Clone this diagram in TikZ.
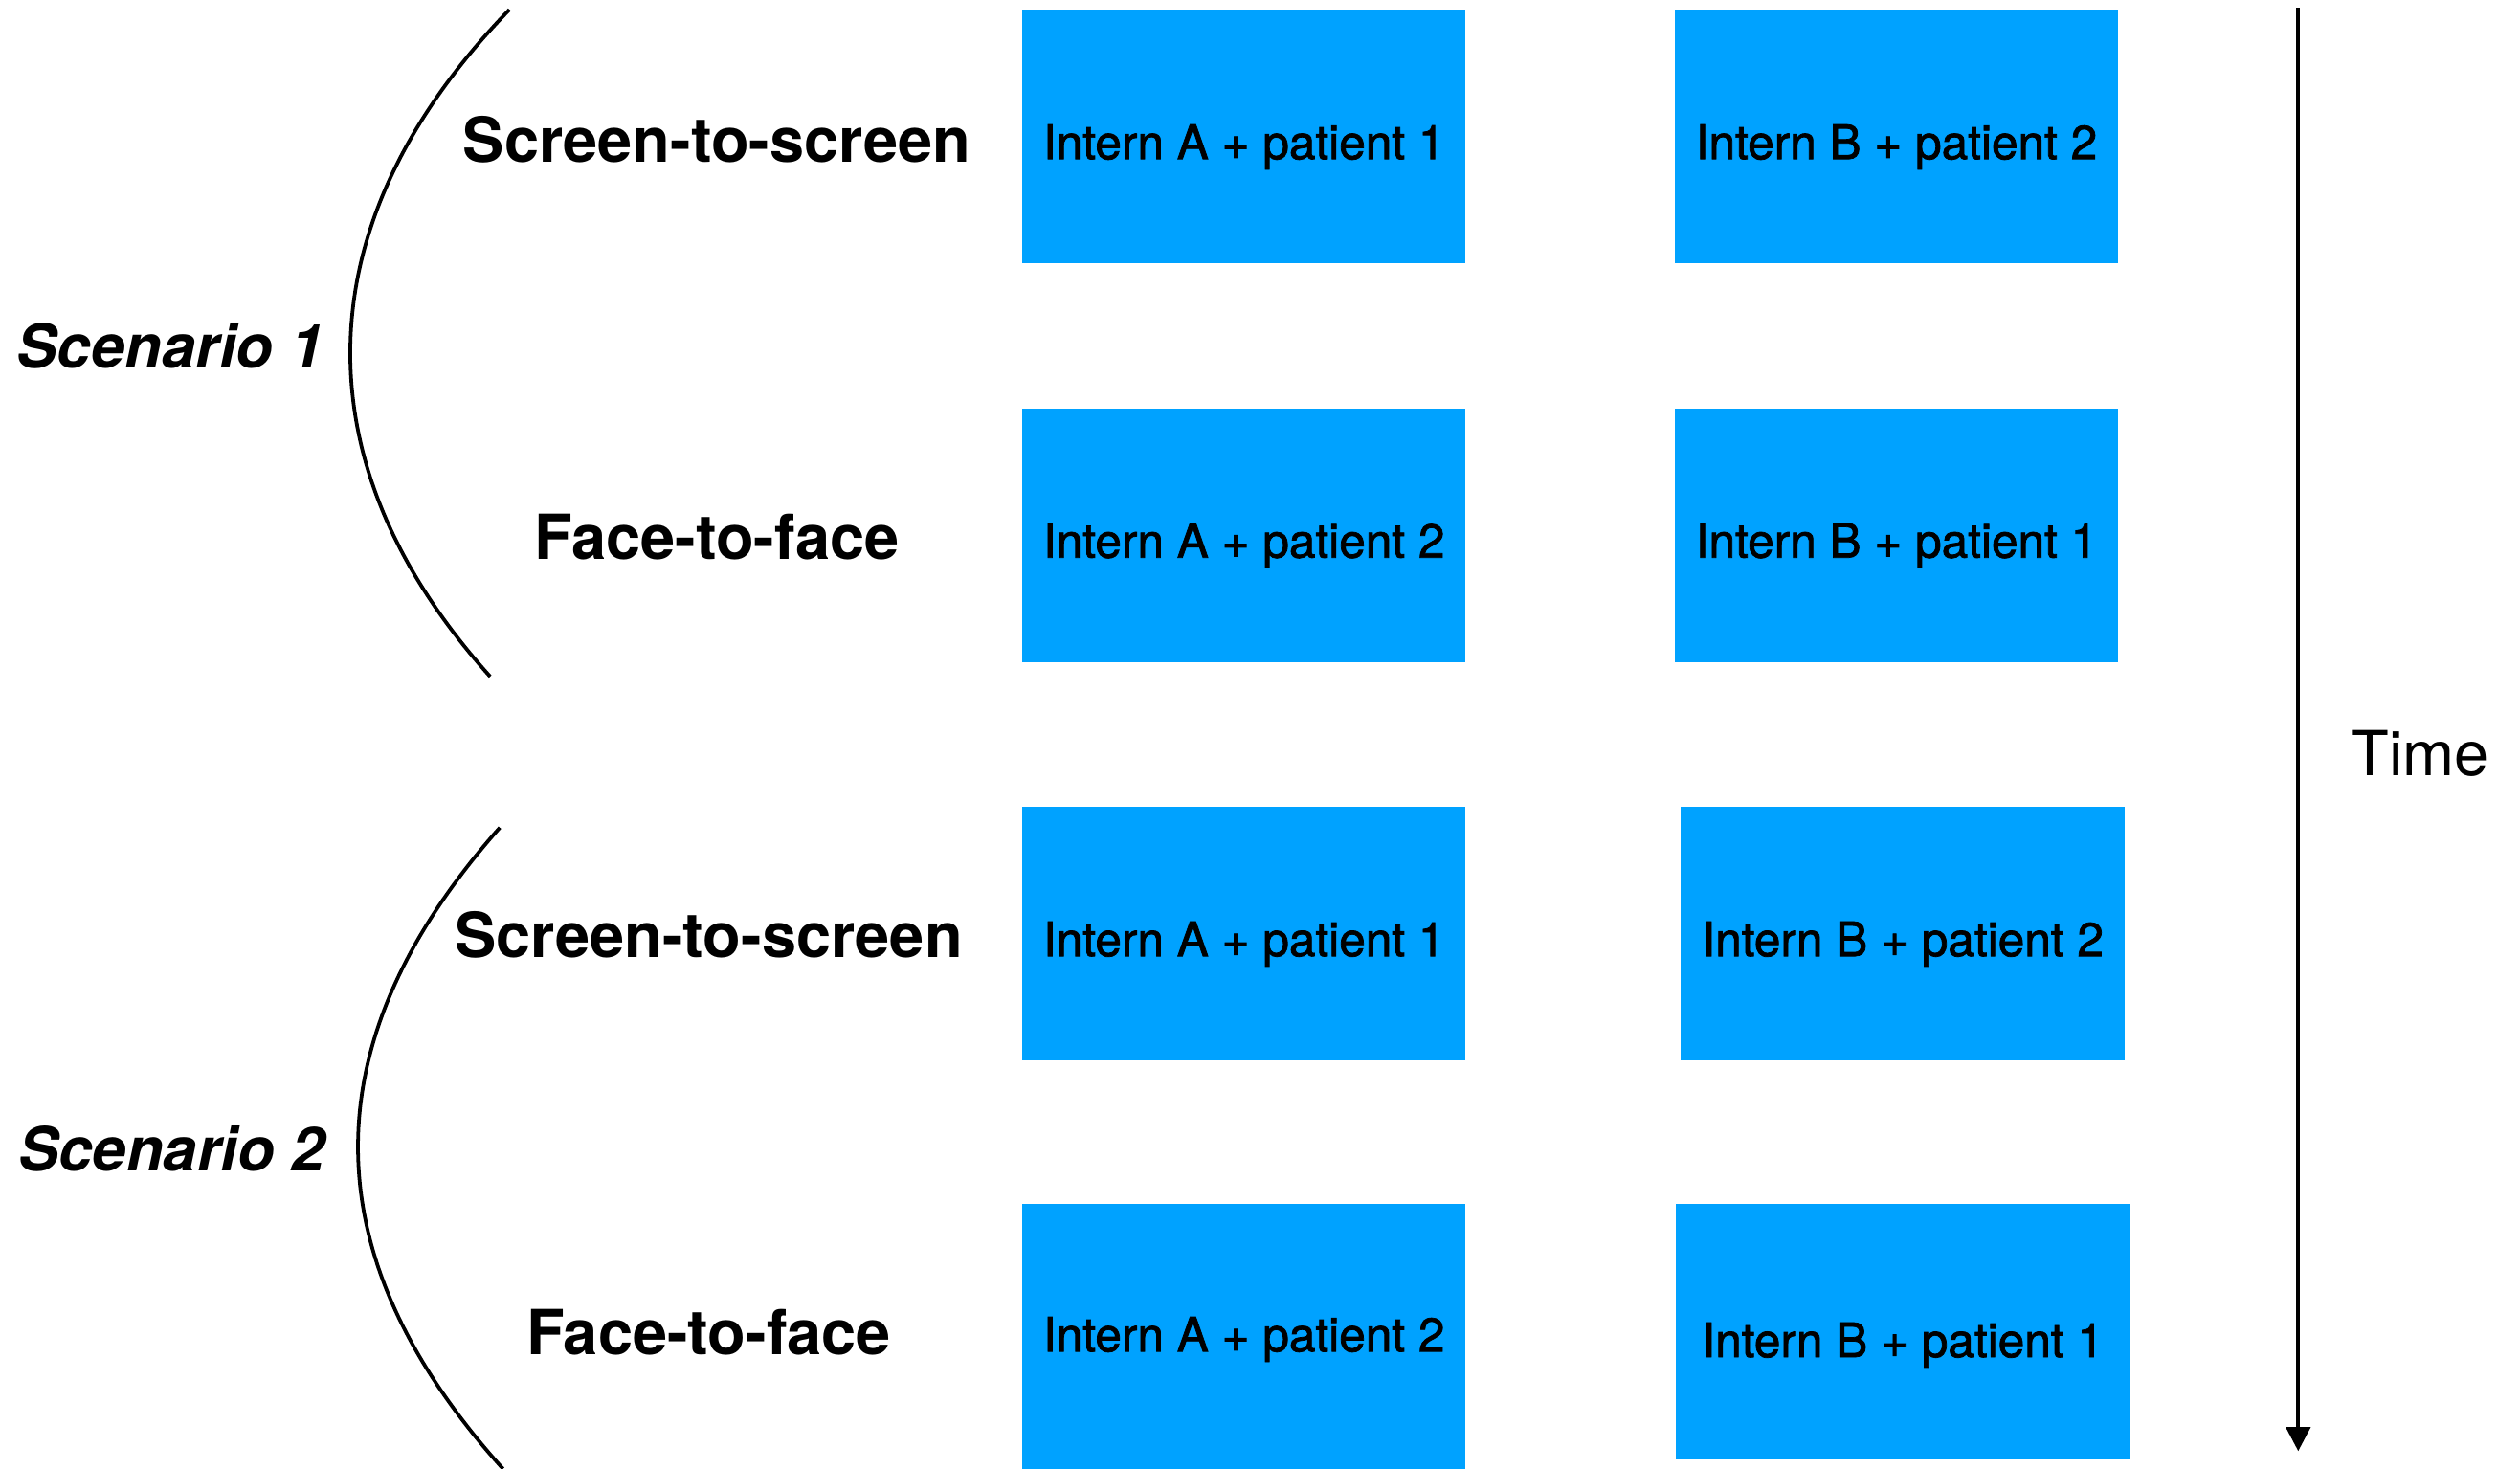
\documentclass[tikz,border=0pt]{standalone}
\usepackage{fontspec}
\setmainfont{TeX Gyre Heros}
\newfontfamily\medfont{TeX Gyre Heros}[FakeBold=1.5]
\usetikzlibrary{positioning,arrows.meta}

\definecolor{boxblue}{RGB}{0,162,255}

\tikzset{
  slot/.style={fill=boxblue, draw=none, inner sep=0pt, minimum width=55.2mm, minimum height=31.6mm,
    text height=5.6mm, text depth=0pt, font=\fontsize{16.8}{20}\medfont},
  mode/.style={font=\fontsize{22}{26}\selectfont\bfseries},
  scen/.style={font=\fontsize{21.5}{26}\selectfont\bfseries\itshape},
  brace/.style={line width=0.45mm},
  timearrow/.style={line width=0.5mm, arrows={-{Triangle[width=3mm,length=3mm]}}}
}

\begin{document}
\begin{tikzpicture}[x=0.2mm,y=-0.2mm]

    \useasboundingbox (0,0) rectangle (1568,914);

    % scenario 1
    \node[scen] (s1) at (106,215) {Scenario 1};
    \node[mode] (m1) at (446,87) {Screen-to-screen};
    \node[mode] (m2) at (446,334) {Face-to-face};
    \coordinate (b1top) at (317,6);
    \coordinate (b1bot) at (305,421);
    \draw[brace] (b1top) .. controls (187,140) and (187,290) .. (b1bot);

    % scenario 2
    \node[scen] (s2) at (107,715) {Scenario 2};
    \node[mode] (m3) at (441,582) {Screen-to-screen};
    \node[mode] (m4) at (441,829) {Face-to-face};
    \coordinate (b2top) at (311,515);
    \coordinate (b2bot) at (313,914);
    \draw[brace] (b2top) .. controls (193,648) and (193,781) .. (b2bot);

    % sessions
    \node[slot] (a1) at (774,85) {Intern A + patient 1};
    \node[slot] (c1) at (1180,85) {Intern B + patient 2};
    \node[slot] (a2) at (774,333) {Intern A + patient 2};
    \node[slot] (c2) at (1180,333) {Intern B + patient 1};
    \node[slot] (a3) at (774,581) {Intern A + patient 1};
    \node[slot] (c3) at (1184,581) {Intern B + patient 2};
    \node[slot, minimum height=33mm, text height=3.8mm] (a4) at (774,831.5) {Intern A + patient 2};
    \node[slot, minimum width=56.4mm, minimum height=31.8mm, text height=6.4mm] (c4) at (1184,828.5) {Intern B + patient 1};

    % time axis
    \coordinate (t0) at (1430,5);
    \coordinate (t1) at (1430,903);
    \draw[timearrow] (t0) -- (t1);
    \node[font=\fontsize{22}{26}\selectfont] (time) at (1506,469) {Time};

\end{tikzpicture}
\end{document}
